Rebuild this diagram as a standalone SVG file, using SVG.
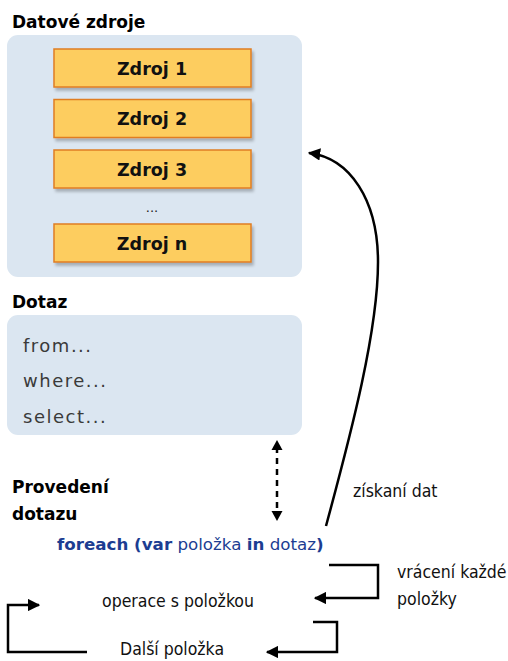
<svg xmlns="http://www.w3.org/2000/svg" width="508" height="661" viewBox="0 0 508 661">
  <style>
    .title { font-family: "DejaVu Sans", Verdana, sans-serif; font-weight: bold; font-size: 17px; fill: #000; }
    .panel { fill: #dbe6f1; }
    .src rect { fill: #fdcd5f; stroke: #e07d22; stroke-width: 1.5; }
    .src text { font-family: "DejaVu Sans", Verdana, sans-serif; font-weight: bold; font-size: 17.5px; fill: #111; text-anchor: middle; }
    .clause { font-family: "DejaVu Sans", Verdana, sans-serif; font-size: 18px; fill: #3a3a3a; letter-spacing: 1.5px; }
    .lbl { font-family: "DejaVu Sans Condensed", "DejaVu Sans", sans-serif; font-size: 17.5px; fill: #111; }
    .code { font-family: "DejaVu Sans", Verdana, sans-serif; font-size: 16.7px; fill: #1c3d92; }
    .code .kw { font-weight: bold; }
    .wire { fill: none; stroke: #000; stroke-width: 2.5; }
  </style>
  <defs>
    <marker id="head" viewBox="0 0 10 10" refX="9" refY="5" markerWidth="5" markerHeight="5" orient="auto-start-reverse" markerUnits="strokeWidth">
      <path d="M0,0 L10,5 L0,10 z" fill="#000"/>
    </marker>
    <filter id="drop" x="-5%" y="-20%" width="115%" height="160%">
      <feGaussianBlur in="SourceAlpha" stdDeviation="1.5"/>
      <feOffset dx="2" dy="3"/>
      <feComponentTransfer><feFuncA type="linear" slope="0.25"/></feComponentTransfer>
      <feMerge><feMergeNode/><feMergeNode in="SourceGraphic"/></feMerge>
    </filter>
  </defs>

  <!-- data sources -->
  <g id="sources">
    <text class="title" x="12" y="28">Datové zdroje</text>
    <rect class="panel" x="7" y="35" width="295" height="242" rx="11"/>
  </g>
  <g id="zdroj1" class="src">
    <rect x="54" y="49" width="197" height="38" filter="url(#drop)"/>
    <text x="152" y="74.5">Zdroj 1</text>
  </g>
  <g id="zdroj2" class="src">
    <rect x="54" y="99.5" width="197" height="38" filter="url(#drop)"/>
    <text x="152" y="125">Zdroj 2</text>
  </g>
  <g id="zdroj3" class="src">
    <rect x="54" y="150" width="197" height="38" filter="url(#drop)"/>
    <text x="152" y="175.5">Zdroj 3</text>
  </g>
  <text x="152" y="212" font-family="DejaVu Sans, sans-serif" font-size="13" fill="#222" text-anchor="middle">...</text>
  <g id="zdrojn" class="src">
    <rect x="54" y="224" width="197" height="38" filter="url(#drop)"/>
    <text x="152" y="249.5">Zdroj n</text>
  </g>

  <!-- query -->
  <g id="query">
    <text class="title" x="12" y="308">Dotaz</text>
    <rect class="panel" x="7" y="315" width="295" height="120" rx="11"/>
    <text class="clause" x="23" y="352">from...</text>
    <text class="clause" x="23" y="387">where...</text>
    <text class="clause" x="23" y="423">select...</text>
  </g>

  <!-- execution -->
  <g id="execution">
    <text class="title" x="12" y="493">Provedení</text>
    <text class="title" x="12" y="520">dotazu</text>
  </g>
  <g id="foreach">
    <text class="code" x="57" y="550"><tspan class="kw">foreach (var</tspan> položka <tspan class="kw">in</tspan> dotaz<tspan class="kw">)</tspan></text>
  </g>
  <g id="operation">
    <text class="lbl" x="102" y="607">operace s položkou</text>
  </g>
  <g id="next">
    <text class="lbl" x="120" y="655">Další položka</text>
  </g>

  <!-- connectors -->
  <g id="connectors">
    <path class="wire" d="M277,447 L277,514" stroke-dasharray="6,5" stroke-width="3"/>
    <path d="M277,440 L271.5,450 L282.5,450 z" fill="#000"/>
    <path d="M277,521 L271.5,511 L282.5,511 z" fill="#000"/>

    <path class="wire" d="M326,526 C352,430 378,330 378,262 C378,200 350,158 309,153" marker-end="url(#head)"/>
    <text class="lbl" x="353" y="497">získaní dat</text>

    <path class="wire" d="M329,565 L378,565 L378,598 L315,598" marker-end="url(#head)"/>
    <text class="lbl" x="397" y="578">vrácení každé</text>
    <text class="lbl" x="397" y="605">položky</text>

    <path class="wire" d="M313,622 L337,622 L337,652 L267,652" marker-end="url(#head)"/>

    <path class="wire" d="M87,652 L8,652 L8,605 L39,605" marker-end="url(#head)"/>
  </g>
</svg>
